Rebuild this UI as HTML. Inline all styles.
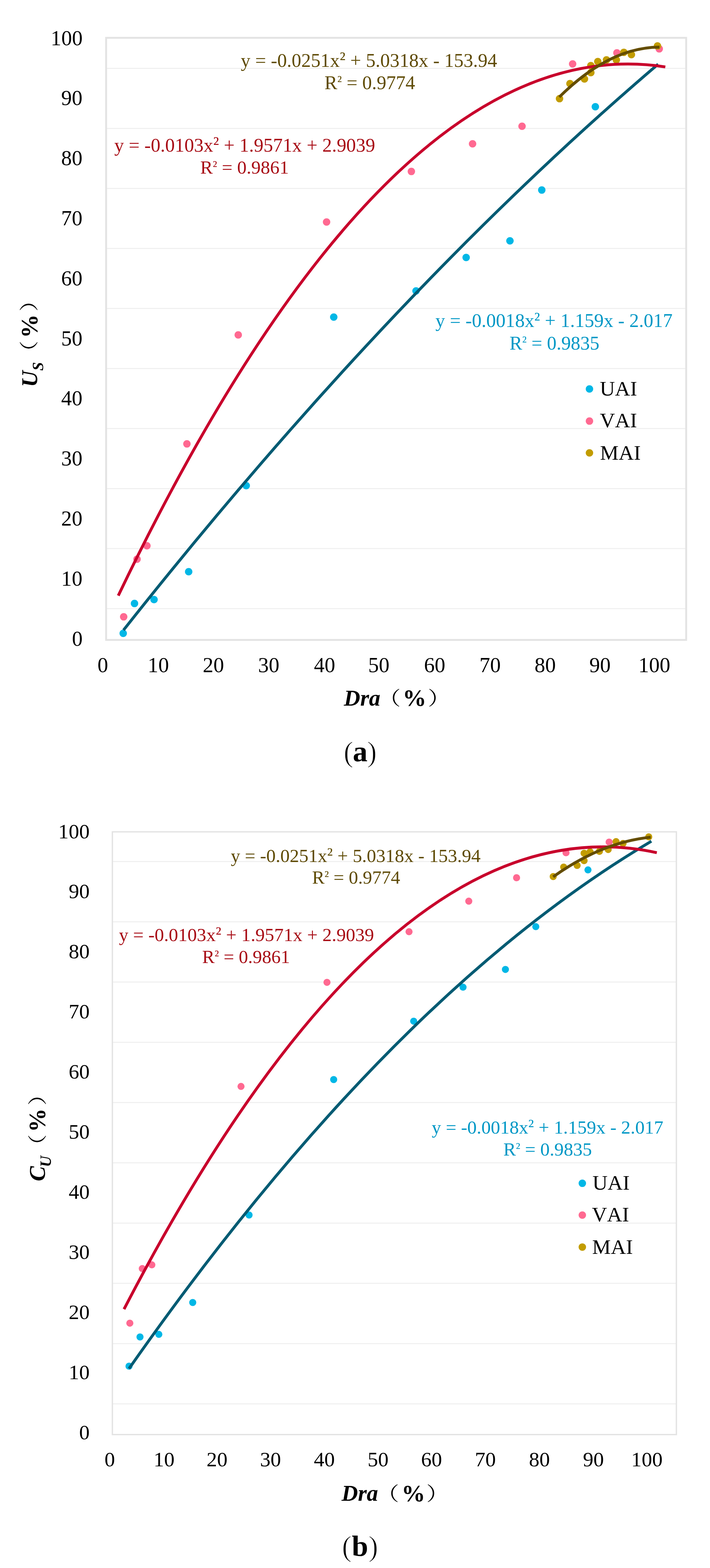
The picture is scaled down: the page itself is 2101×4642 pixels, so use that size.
<!DOCTYPE html>
<html><head><meta charset="utf-8"><style>
html,body{margin:0;padding:0;background:#fff;}
svg{display:block;}
text{font-kerning:none;}
</style></head><body>
<svg width="2101" height="4642" viewBox="0 0 2101 4642">
<rect width="2101" height="4642" fill="#fff"/>
<line x1="314.0" y1="202.5" x2="2030.5" y2="202.5" stroke="#efefef" stroke-width="3"/>
<line x1="314.0" y1="380.2" x2="2030.5" y2="380.2" stroke="#efefef" stroke-width="3"/>
<line x1="314.0" y1="557.9" x2="2030.5" y2="557.9" stroke="#efefef" stroke-width="3"/>
<line x1="314.0" y1="735.6" x2="2030.5" y2="735.6" stroke="#efefef" stroke-width="3"/>
<line x1="314.0" y1="913.3" x2="2030.5" y2="913.3" stroke="#efefef" stroke-width="3"/>
<line x1="314.0" y1="1091.0" x2="2030.5" y2="1091.0" stroke="#efefef" stroke-width="3"/>
<line x1="314.0" y1="1268.7" x2="2030.5" y2="1268.7" stroke="#efefef" stroke-width="3"/>
<line x1="314.0" y1="1446.4" x2="2030.5" y2="1446.4" stroke="#efefef" stroke-width="3"/>
<line x1="314.0" y1="1624.1" x2="2030.5" y2="1624.1" stroke="#efefef" stroke-width="3"/>
<line x1="314.0" y1="1801.8" x2="2030.5" y2="1801.8" stroke="#efefef" stroke-width="3"/>
<rect x="314.0" y="112.0" width="1716.5" height="1782.5" fill="none" stroke="#e3e3e3" stroke-width="5.5"/>
<line x1="332.5" y1="2550.5" x2="2001.5" y2="2550.5" stroke="#efefef" stroke-width="3"/>
<line x1="332.5" y1="2728.9" x2="2001.5" y2="2728.9" stroke="#efefef" stroke-width="3"/>
<line x1="332.5" y1="2907.3" x2="2001.5" y2="2907.3" stroke="#efefef" stroke-width="3"/>
<line x1="332.5" y1="3085.7" x2="2001.5" y2="3085.7" stroke="#efefef" stroke-width="3"/>
<line x1="332.5" y1="3264.1" x2="2001.5" y2="3264.1" stroke="#efefef" stroke-width="3"/>
<line x1="332.5" y1="3442.5" x2="2001.5" y2="3442.5" stroke="#efefef" stroke-width="3"/>
<line x1="332.5" y1="3620.9" x2="2001.5" y2="3620.9" stroke="#efefef" stroke-width="3"/>
<line x1="332.5" y1="3799.3" x2="2001.5" y2="3799.3" stroke="#efefef" stroke-width="3"/>
<line x1="332.5" y1="3977.7" x2="2001.5" y2="3977.7" stroke="#efefef" stroke-width="3"/>
<line x1="332.5" y1="4156.1" x2="2001.5" y2="4156.1" stroke="#efefef" stroke-width="3"/>
<rect x="332.5" y="2462.6" width="1669.0" height="1784.4" fill="none" stroke="#e3e3e3" stroke-width="4"/>
<circle cx="364.6" cy="1875.0" r="11" fill="#00b7e6"/>
<circle cx="398.0" cy="1786.6" r="11" fill="#00b7e6"/>
<circle cx="455.8" cy="1775.0" r="11" fill="#00b7e6"/>
<circle cx="558.3" cy="1692.5" r="11" fill="#00b7e6"/>
<circle cx="728.6" cy="1437.7" r="11" fill="#00b7e6"/>
<circle cx="987.6" cy="938.7" r="11" fill="#00b7e6"/>
<circle cx="1231.1" cy="861.3" r="11" fill="#00b7e6"/>
<circle cx="1379.4" cy="762.3" r="11" fill="#00b7e6"/>
<circle cx="1509.0" cy="713.0" r="11" fill="#00b7e6"/>
<circle cx="1603.2" cy="562.6" r="11" fill="#00b7e6"/>
<circle cx="1761.7" cy="316.0" r="11" fill="#00b7e6"/>
<circle cx="366.0" cy="1826.1" r="11" fill="#ff6991"/>
<circle cx="405.5" cy="1655.4" r="11" fill="#ff6991"/>
<circle cx="434.8" cy="1615.8" r="11" fill="#ff6991"/>
<circle cx="553.1" cy="1314.1" r="11" fill="#ff6991"/>
<circle cx="705.0" cy="991.5" r="11" fill="#ff6991"/>
<circle cx="966.4" cy="657.3" r="11" fill="#ff6991"/>
<circle cx="1217.3" cy="507.6" r="11" fill="#ff6991"/>
<circle cx="1398.4" cy="425.8" r="11" fill="#ff6991"/>
<circle cx="1544.8" cy="373.8" r="11" fill="#ff6991"/>
<circle cx="1694.5" cy="189.2" r="11" fill="#ff6991"/>
<circle cx="1825.5" cy="156.6" r="11" fill="#ff6991"/>
<circle cx="1950.8" cy="144.6" r="11" fill="#ff6991"/>
<circle cx="1655.7" cy="292.1" r="11" fill="#c29c00"/>
<circle cx="1686.6" cy="247.5" r="11" fill="#c29c00"/>
<circle cx="1729.5" cy="233.8" r="11" fill="#c29c00"/>
<circle cx="1748.4" cy="215.0" r="11" fill="#c29c00"/>
<circle cx="1748.4" cy="194.3" r="11" fill="#c29c00"/>
<circle cx="1769.0" cy="182.3" r="11" fill="#c29c00"/>
<circle cx="1794.7" cy="177.2" r="11" fill="#c29c00"/>
<circle cx="1823.8" cy="177.2" r="11" fill="#c29c00"/>
<circle cx="1846.1" cy="154.9" r="11" fill="#c29c00"/>
<circle cx="1868.4" cy="161.7" r="11" fill="#c29c00"/>
<circle cx="1945.6" cy="136.0" r="11" fill="#c29c00"/>
<path d="M365.5 1865.3 Q1156.5 864.8 1947.5 190.0" fill="none" stroke="#005b73" stroke-width="8.5"/>
<path d="M350.0 1763.3 Q1159.4 74.1 1968.8 198.1" fill="none" stroke="#c8002c" stroke-width="8.5"/>
<path d="M1655.1 287.3 Q1803.3 140.0 1951.5 139.6" fill="none" stroke="#644d00" stroke-width="8.5"/>
<circle cx="381.8" cy="4044.5" r="10.5" fill="#00b7e6"/>
<circle cx="414.3" cy="3958.0" r="10.5" fill="#00b7e6"/>
<circle cx="470.0" cy="3950.3" r="10.5" fill="#00b7e6"/>
<circle cx="570.3" cy="3856.0" r="10.5" fill="#00b7e6"/>
<circle cx="737.0" cy="3597.0" r="10.5" fill="#00b7e6"/>
<circle cx="987.4" cy="3196.0" r="10.5" fill="#00b7e6"/>
<circle cx="1224.2" cy="3023.2" r="10.5" fill="#00b7e6"/>
<circle cx="1370.2" cy="2922.6" r="10.5" fill="#00b7e6"/>
<circle cx="1495.6" cy="2869.9" r="10.5" fill="#00b7e6"/>
<circle cx="1585.5" cy="2743.3" r="10.5" fill="#00b7e6"/>
<circle cx="1739.9" cy="2575.3" r="10.5" fill="#00b7e6"/>
<circle cx="384.2" cy="3917.2" r="10.5" fill="#ff6991"/>
<circle cx="421.0" cy="3755.6" r="10.5" fill="#ff6991"/>
<circle cx="449.3" cy="3744.6" r="10.5" fill="#ff6991"/>
<circle cx="713.2" cy="3216.3" r="10.5" fill="#ff6991"/>
<circle cx="967.6" cy="2908.2" r="10.5" fill="#ff6991"/>
<circle cx="1210.4" cy="2758.3" r="10.5" fill="#ff6991"/>
<circle cx="1387.2" cy="2667.8" r="10.5" fill="#ff6991"/>
<circle cx="1528.6" cy="2598.5" r="10.5" fill="#ff6991"/>
<circle cx="1674.9" cy="2524.5" r="10.5" fill="#ff6991"/>
<circle cx="1802.5" cy="2492.9" r="10.5" fill="#ff6991"/>
<circle cx="1637.0" cy="2595.0" r="10.5" fill="#c29c00"/>
<circle cx="1668.0" cy="2567.0" r="10.5" fill="#c29c00"/>
<circle cx="1707.8" cy="2562.1" r="10.5" fill="#c29c00"/>
<circle cx="1728.4" cy="2547.8" r="10.5" fill="#c29c00"/>
<circle cx="1728.4" cy="2525.9" r="10.5" fill="#c29c00"/>
<circle cx="1746.2" cy="2521.7" r="10.5" fill="#c29c00"/>
<circle cx="1773.7" cy="2520.4" r="10.5" fill="#c29c00"/>
<circle cx="1799.7" cy="2514.9" r="10.5" fill="#c29c00"/>
<circle cx="1823.0" cy="2491.6" r="10.5" fill="#c29c00"/>
<circle cx="1843.7" cy="2497.0" r="10.5" fill="#c29c00"/>
<circle cx="1919.7" cy="2477.5" r="10.5" fill="#c29c00"/>
<path d="M381.8 4051.8 Q1154.7 2947.9 1927.5 2490.4" fill="none" stroke="#005b73" stroke-width="8.5"/>
<path d="M367.0 3875.8 Q1155.3 2353.3 1943.6 2524.4" fill="none" stroke="#c8002c" stroke-width="8.5"/>
<path d="M1637.0 2595.7 Q1781.2 2493.0 1925.5 2478.4" fill="none" stroke="#644d00" stroke-width="8.5"/>
<circle cx="1744.3" cy="1151.5" r="11" fill="#00b7e6"/>
<circle cx="1744.3" cy="1246.6" r="11" fill="#ff6991"/>
<circle cx="1744.3" cy="1340.8" r="11" fill="#c29c00"/>
<circle cx="1723.2" cy="3503.1" r="11" fill="#00b7e6"/>
<circle cx="1723.2" cy="3597.2" r="11" fill="#ff6991"/>
<circle cx="1723.2" cy="3691.9" r="11" fill="#c29c00"/>
<text x="150.1" y="133.6" font-size="63" font-family="'Liberation Serif','Noto Serif CJK SC',serif" font-weight="normal" font-style="normal" fill="#000">100</text>
<text x="181.1" y="311.4" font-size="63" font-family="'Liberation Serif','Noto Serif CJK SC',serif" font-weight="normal" font-style="normal" fill="#000">90</text>
<text x="181.1" y="489.2" font-size="63" font-family="'Liberation Serif','Noto Serif CJK SC',serif" font-weight="normal" font-style="normal" fill="#000">80</text>
<text x="181.1" y="667.0" font-size="63" font-family="'Liberation Serif','Noto Serif CJK SC',serif" font-weight="normal" font-style="normal" fill="#000">70</text>
<text x="181.1" y="844.8" font-size="63" font-family="'Liberation Serif','Noto Serif CJK SC',serif" font-weight="normal" font-style="normal" fill="#000">60</text>
<text x="181.1" y="1022.6" font-size="63" font-family="'Liberation Serif','Noto Serif CJK SC',serif" font-weight="normal" font-style="normal" fill="#000">50</text>
<text x="181.1" y="1200.4" font-size="63" font-family="'Liberation Serif','Noto Serif CJK SC',serif" font-weight="normal" font-style="normal" fill="#000">40</text>
<text x="181.1" y="1378.2" font-size="63" font-family="'Liberation Serif','Noto Serif CJK SC',serif" font-weight="normal" font-style="normal" fill="#000">30</text>
<text x="181.1" y="1556.0" font-size="63" font-family="'Liberation Serif','Noto Serif CJK SC',serif" font-weight="normal" font-style="normal" fill="#000">20</text>
<text x="181.1" y="1733.8" font-size="63" font-family="'Liberation Serif','Noto Serif CJK SC',serif" font-weight="normal" font-style="normal" fill="#000">10</text>
<text x="213.1" y="1911.6" font-size="63" font-family="'Liberation Serif','Noto Serif CJK SC',serif" font-weight="normal" font-style="normal" fill="#000">0</text>
<text x="288.5" y="1990.3" font-size="63" font-family="'Liberation Serif','Noto Serif CJK SC',serif" font-weight="normal" font-style="normal" fill="#000">0</text>
<text x="437.0" y="1990.3" font-size="63" font-family="'Liberation Serif','Noto Serif CJK SC',serif" font-weight="normal" font-style="normal" fill="#000">10</text>
<text x="600.0" y="1990.3" font-size="63" font-family="'Liberation Serif','Noto Serif CJK SC',serif" font-weight="normal" font-style="normal" fill="#000">20</text>
<text x="763.7" y="1990.3" font-size="63" font-family="'Liberation Serif','Noto Serif CJK SC',serif" font-weight="normal" font-style="normal" fill="#000">30</text>
<text x="929.0" y="1990.3" font-size="63" font-family="'Liberation Serif','Noto Serif CJK SC',serif" font-weight="normal" font-style="normal" fill="#000">40</text>
<text x="1089.5" y="1990.3" font-size="63" font-family="'Liberation Serif','Noto Serif CJK SC',serif" font-weight="normal" font-style="normal" fill="#000">50</text>
<text x="1254.8" y="1990.3" font-size="63" font-family="'Liberation Serif','Noto Serif CJK SC',serif" font-weight="normal" font-style="normal" fill="#000">60</text>
<text x="1418.7" y="1990.3" font-size="63" font-family="'Liberation Serif','Noto Serif CJK SC',serif" font-weight="normal" font-style="normal" fill="#000">70</text>
<text x="1581.8" y="1990.3" font-size="63" font-family="'Liberation Serif','Noto Serif CJK SC',serif" font-weight="normal" font-style="normal" fill="#000">80</text>
<text x="1743.9" y="1990.3" font-size="63" font-family="'Liberation Serif','Noto Serif CJK SC',serif" font-weight="normal" font-style="normal" fill="#000">90</text>
<text x="1889.0" y="1990.3" font-size="63" font-family="'Liberation Serif','Noto Serif CJK SC',serif" font-weight="normal" font-style="normal" fill="#000">100</text>
<text x="712.6" y="197.8" font-size="56.85" font-family="'Liberation Serif','Noto Serif CJK SC',serif" fill="#5f4b05">y = -0.0251x<tspan dy="-0.076em">²</tspan><tspan dy="0.076em"> + 5.0318x - 153.94</tspan></text>
<text x="960.3" y="263.8" font-size="56.85" font-family="'Liberation Serif','Noto Serif CJK SC',serif" fill="#5f4b05">R<tspan font-size="0.78em" dy="-0.19em">²</tspan><tspan dy="0.148em"> = 0.9774</tspan></text>
<text x="338.3" y="448.8" font-size="56.87" font-family="'Liberation Serif','Noto Serif CJK SC',serif" fill="#a80d16">y = -0.0103x<tspan dy="-0.076em">²</tspan><tspan dy="0.076em"> + 1.9571x + 2.9039</tspan></text>
<text x="592.4" y="514.3" font-size="55.66" font-family="'Liberation Serif','Noto Serif CJK SC',serif" fill="#a80d16">R<tspan font-size="0.78em" dy="-0.19em">²</tspan><tspan dy="0.148em"> = 0.9861</tspan></text>
<text x="1288.6" y="968.3" font-size="56.84" font-family="'Liberation Serif','Noto Serif CJK SC',serif" fill="#0098c6">y = -0.0018x<tspan dy="-0.076em">²</tspan><tspan dy="0.076em"> + 1.159x - 2.017</tspan></text>
<text x="1507.7" y="1034.7" font-size="56.43" font-family="'Liberation Serif','Noto Serif CJK SC',serif" fill="#0098c6">R<tspan font-size="0.78em" dy="-0.19em">²</tspan><tspan dy="0.148em"> = 0.9835</tspan></text>
<text x="1775.1" y="1171.0" font-size="62" font-family="'Liberation Serif','Noto Serif CJK SC',serif" font-weight="normal" font-style="normal" fill="#000">UAI</text>
<text x="1775.0" y="1265.2" font-size="62" font-family="'Liberation Serif','Noto Serif CJK SC',serif" font-weight="normal" font-style="normal" fill="#000">VAI</text>
<text x="1775.5" y="1361.1" font-size="62" font-family="'Liberation Serif','Noto Serif CJK SC',serif" font-weight="normal" font-style="normal" fill="#000">MAI</text>
<text x="1017.5" y="2089.0" font-size="67" font-family="'Liberation Serif','Noto Serif CJK SC',serif" font-weight="bold" font-style="italic" fill="#000">Dra</text>
<text transform="translate(1118.7 2086.9) scale(1.000 0.840)" font-size="67" font-family="'Noto Serif CJK SC','Liberation Serif',serif" font-weight="normal" font-style="normal" fill="#000">（</text>
<text x="1191.6" y="2090.2" font-size="70" font-family="'Liberation Serif','Noto Serif CJK SC',serif" font-weight="bold" font-style="normal" fill="#000">%</text>
<text transform="translate(1266.0 2086.9) scale(1.000 0.840)" font-size="67" font-family="'Noto Serif CJK SC','Liberation Serif',serif" font-weight="normal" font-style="normal" fill="#000">）</text>
<text x="1016.8" y="2254.8" font-size="87" font-family="'Liberation Serif','Noto Serif CJK SC',serif" fill="#000" stroke="#fff" stroke-width="1.8">(</text>
<text x="1044.0" y="2254.2" font-size="87" font-family="'Liberation Serif','Noto Serif CJK SC',serif" font-weight="bold" font-style="normal" fill="#000">a</text>
<text x="1086.0" y="2254.8" font-size="87" font-family="'Liberation Serif','Noto Serif CJK SC',serif" fill="#000" stroke="#fff" stroke-width="1.8">)</text>
<text transform="translate(110.4 1146.0) rotate(-90)" font-size="67" font-family="'Liberation Serif','Noto Serif CJK SC',serif" font-weight="bold" font-style="italic" fill="#000">U</text>
<text transform="translate(127.6 1097.5) rotate(-90)" font-size="46" font-family="'Liberation Serif','Noto Serif CJK SC',serif" font-weight="bold" font-style="italic" fill="#000">S</text>
<text transform="translate(106.3 1075.5) rotate(-90) scale(1.000 0.840)" font-size="67" font-family="'Noto Serif CJK SC','Liberation Serif',serif" font-weight="normal" font-style="normal" fill="#000">（</text>
<text transform="translate(110.5 1000.7) rotate(-90)" font-size="70" font-family="'Liberation Serif','Noto Serif CJK SC',serif" font-weight="bold" font-style="normal" fill="#000">%</text>
<text transform="translate(106.3 922.5) rotate(-90) scale(1.000 0.840)" font-size="67" font-family="'Noto Serif CJK SC','Liberation Serif',serif" font-weight="normal" font-style="normal" fill="#000">）</text>
<text x="172.3" y="2481.5" font-size="62" font-family="'Liberation Serif','Noto Serif CJK SC',serif" font-weight="normal" font-style="normal" fill="#000">100</text>
<text x="203.3" y="2659.4" font-size="62" font-family="'Liberation Serif','Noto Serif CJK SC',serif" font-weight="normal" font-style="normal" fill="#000">90</text>
<text x="203.3" y="2837.3" font-size="62" font-family="'Liberation Serif','Noto Serif CJK SC',serif" font-weight="normal" font-style="normal" fill="#000">80</text>
<text x="203.3" y="3015.3" font-size="62" font-family="'Liberation Serif','Noto Serif CJK SC',serif" font-weight="normal" font-style="normal" fill="#000">70</text>
<text x="203.3" y="3193.2" font-size="62" font-family="'Liberation Serif','Noto Serif CJK SC',serif" font-weight="normal" font-style="normal" fill="#000">60</text>
<text x="203.3" y="3371.1" font-size="62" font-family="'Liberation Serif','Noto Serif CJK SC',serif" font-weight="normal" font-style="normal" fill="#000">50</text>
<text x="203.3" y="3549.0" font-size="62" font-family="'Liberation Serif','Noto Serif CJK SC',serif" font-weight="normal" font-style="normal" fill="#000">40</text>
<text x="203.3" y="3726.9" font-size="62" font-family="'Liberation Serif','Noto Serif CJK SC',serif" font-weight="normal" font-style="normal" fill="#000">30</text>
<text x="203.3" y="3904.9" font-size="62" font-family="'Liberation Serif','Noto Serif CJK SC',serif" font-weight="normal" font-style="normal" fill="#000">20</text>
<text x="203.3" y="4082.8" font-size="62" font-family="'Liberation Serif','Noto Serif CJK SC',serif" font-weight="normal" font-style="normal" fill="#000">10</text>
<text x="234.3" y="4260.7" font-size="62" font-family="'Liberation Serif','Noto Serif CJK SC',serif" font-weight="normal" font-style="normal" fill="#000">0</text>
<text x="309.3" y="4340.6" font-size="62" font-family="'Liberation Serif','Noto Serif CJK SC',serif" font-weight="normal" font-style="normal" fill="#000">0</text>
<text x="454.4" y="4340.6" font-size="62" font-family="'Liberation Serif','Noto Serif CJK SC',serif" font-weight="normal" font-style="normal" fill="#000">10</text>
<text x="611.3" y="4340.6" font-size="62" font-family="'Liberation Serif','Noto Serif CJK SC',serif" font-weight="normal" font-style="normal" fill="#000">20</text>
<text x="769.5" y="4340.6" font-size="62" font-family="'Liberation Serif','Noto Serif CJK SC',serif" font-weight="normal" font-style="normal" fill="#000">30</text>
<text x="928.7" y="4340.6" font-size="62" font-family="'Liberation Serif','Noto Serif CJK SC',serif" font-weight="normal" font-style="normal" fill="#000">40</text>
<text x="1087.8" y="4340.6" font-size="62" font-family="'Liberation Serif','Noto Serif CJK SC',serif" font-weight="normal" font-style="normal" fill="#000">50</text>
<text x="1246.0" y="4340.6" font-size="62" font-family="'Liberation Serif','Noto Serif CJK SC',serif" font-weight="normal" font-style="normal" fill="#000">60</text>
<text x="1405.3" y="4340.6" font-size="62" font-family="'Liberation Serif','Noto Serif CJK SC',serif" font-weight="normal" font-style="normal" fill="#000">70</text>
<text x="1565.3" y="4340.6" font-size="62" font-family="'Liberation Serif','Noto Serif CJK SC',serif" font-weight="normal" font-style="normal" fill="#000">80</text>
<text x="1725.0" y="4340.6" font-size="62" font-family="'Liberation Serif','Noto Serif CJK SC',serif" font-weight="normal" font-style="normal" fill="#000">90</text>
<text x="1867.8" y="4340.6" font-size="62" font-family="'Liberation Serif','Noto Serif CJK SC',serif" font-weight="normal" font-style="normal" fill="#000">100</text>
<text x="682.9" y="2551.8" font-size="55.41" font-family="'Liberation Serif','Noto Serif CJK SC',serif" fill="#5f4b05">y = -0.0251x<tspan dy="-0.076em">²</tspan><tspan dy="0.076em"> + 5.0318x - 153.94</tspan></text>
<text x="923.4" y="2616.3" font-size="55.32" font-family="'Liberation Serif','Noto Serif CJK SC',serif" fill="#5f4b05">R<tspan font-size="0.78em" dy="-0.19em">²</tspan><tspan dy="0.148em"> = 0.9774</tspan></text>
<text x="352.0" y="2785.9" font-size="55.61" font-family="'Liberation Serif','Noto Serif CJK SC',serif" fill="#a80d16">y = -0.0103x<tspan dy="-0.076em">²</tspan><tspan dy="0.076em"> + 1.9571x + 2.9039</tspan></text>
<text x="598.3" y="2851.3" font-size="55.09" font-family="'Liberation Serif','Noto Serif CJK SC',serif" fill="#a80d16">R<tspan font-size="0.78em" dy="-0.19em">²</tspan><tspan dy="0.148em"> = 0.9861</tspan></text>
<text x="1277.5" y="3356.2" font-size="55.54" font-family="'Liberation Serif','Noto Serif CJK SC',serif" fill="#0098c6">y = -0.0018x<tspan dy="-0.076em">²</tspan><tspan dy="0.076em"> + 1.159x - 2.017</tspan></text>
<text x="1489.4" y="3420.8" font-size="55.60" font-family="'Liberation Serif','Noto Serif CJK SC',serif" fill="#0098c6">R<tspan font-size="0.78em" dy="-0.19em">²</tspan><tspan dy="0.148em"> = 0.9835</tspan></text>
<text x="1753.2" y="3521.8" font-size="62" font-family="'Liberation Serif','Noto Serif CJK SC',serif" font-weight="normal" font-style="normal" fill="#000">UAI</text>
<text x="1751.5" y="3616.1" font-size="62" font-family="'Liberation Serif','Noto Serif CJK SC',serif" font-weight="normal" font-style="normal" fill="#000">VAI</text>
<text x="1752.3" y="3712.2" font-size="62" font-family="'Liberation Serif','Noto Serif CJK SC',serif" font-weight="normal" font-style="normal" fill="#000">MAI</text>
<text x="1010.8" y="4443.0" font-size="67" font-family="'Liberation Serif','Noto Serif CJK SC',serif" font-weight="bold" font-style="italic" fill="#000">Dra</text>
<text transform="translate(1114.0 4441.7) scale(1.000 0.840)" font-size="67" font-family="'Noto Serif CJK SC','Liberation Serif',serif" font-weight="normal" font-style="normal" fill="#000">（</text>
<text x="1188.3" y="4444.5" font-size="70" font-family="'Liberation Serif','Noto Serif CJK SC',serif" font-weight="bold" font-style="normal" fill="#000">%</text>
<text transform="translate(1261.5 4441.7) scale(1.000 0.840)" font-size="67" font-family="'Noto Serif CJK SC','Liberation Serif',serif" font-weight="normal" font-style="normal" fill="#000">）</text>
<text x="1011.7" y="4607.0" font-size="87" font-family="'Liberation Serif','Noto Serif CJK SC',serif" fill="#000" stroke="#fff" stroke-width="1.8">(</text>
<text x="1041.0" y="4605.9" font-size="87" font-family="'Liberation Serif','Noto Serif CJK SC',serif" font-weight="bold" font-style="normal" fill="#000">b</text>
<text x="1089.9" y="4607.0" font-size="87" font-family="'Liberation Serif','Noto Serif CJK SC',serif" fill="#000" stroke="#fff" stroke-width="1.8">)</text>
<text transform="translate(133.0 3497.0) rotate(-90)" font-size="67" font-family="'Liberation Serif','Noto Serif CJK SC',serif" font-weight="bold" font-style="italic" fill="#000">C</text>
<text transform="translate(151.1 3454.9) rotate(-90)" font-size="46" font-family="'Liberation Serif','Noto Serif CJK SC',serif" font-weight="bold" font-style="italic" fill="#000">U</text>
<text transform="translate(131.0 3425.1) rotate(-90) scale(1.000 0.840)" font-size="67" font-family="'Noto Serif CJK SC','Liberation Serif',serif" font-weight="normal" font-style="normal" fill="#000">（</text>
<text transform="translate(134.0 3351.4) rotate(-90)" font-size="70" font-family="'Liberation Serif','Noto Serif CJK SC',serif" font-weight="bold" font-style="normal" fill="#000">%</text>
<text transform="translate(131.0 3272.9) rotate(-90) scale(1.000 0.840)" font-size="67" font-family="'Noto Serif CJK SC','Liberation Serif',serif" font-weight="normal" font-style="normal" fill="#000">）</text>
</svg>
</body></html>
